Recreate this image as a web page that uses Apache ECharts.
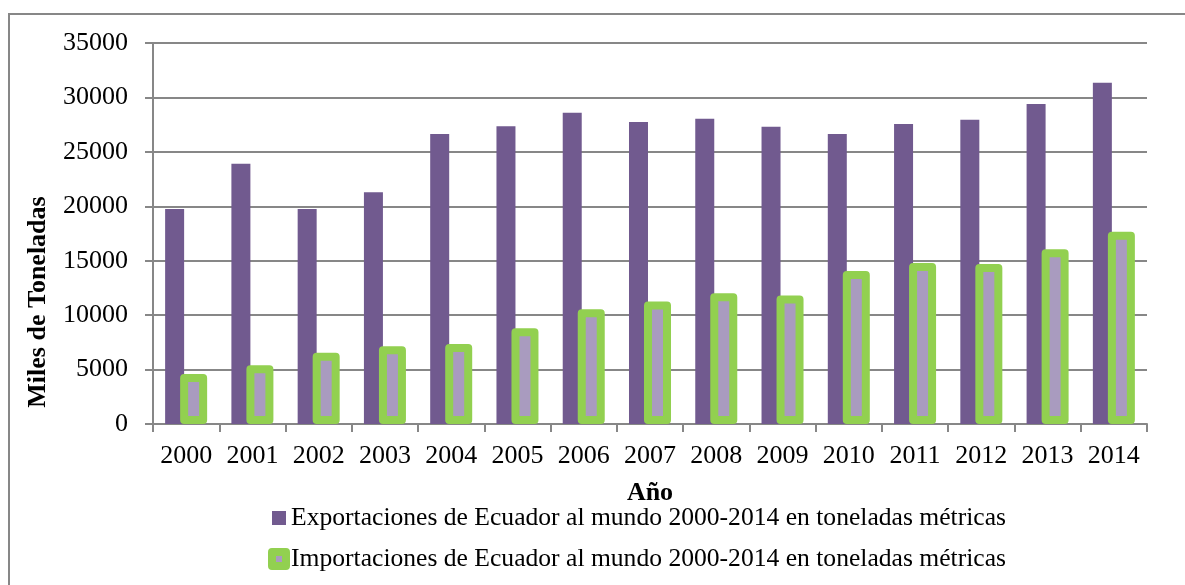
<!DOCTYPE html>
<html>
<head>
<meta charset="utf-8">
<script src="https://cdn.jsdelivr.net/npm/echarts@6/dist/echarts.min.js"></script>
<style>
  html, body { margin: 0; padding: 0; background: #fff; }
  #chart { width: 1185px; height: 585px; }
</style>
</head>
<body>
<div id="chart"></div>
<script>
// años
const years = ['2000', '2001', '2002', '2003', '2004', '2005', '2006', '2007',
  '2008', '2009', '2010', '2011', '2012', '2013', '2014']
// miles de toneladas
const exportaciones = [19750, 23900, 19750, 21300, 26650, 27350, 28600, 27750,
  28050, 27300, 26650, 27550, 27950, 29400, 31350]
const importaciones = [4600, 5400, 6550, 7150, 7350, 8800, 10550, 11250,
  12000, 11800, 14050, 14800, 14700, 16050, 17650]
const yTicks = [0, 5000, 10000, 15000, 20000, 25000, 30000, 35000]

const nombreExp = 'Exportaciones de Ecuador al mundo 2000-2014 en toneladas métricas'
const nombreImp = 'Importaciones de Ecuador al mundo 2000-2014 en toneladas métricas'

const serif = "'Liberation Serif', 'Times New Roman', serif"
const gray = '#878787'

const estiloImp = {
  color: '#a99bbf',
  borderColor: '#92d050',
  borderWidth: 8,
  borderJoin: 'round'
}

const chart = echarts.init(document.getElementById('chart'))

const options = {
  animation: false,
  textStyle: { fontFamily: serif, color: '#000' },
  grid: {
    left: 153,
    right: 38,
    top: 43,
    bottom: 161
  },
  graphic: [
    // marco exterior
    {
      type: 'rect',
      shape: { x: 9, y: 14, width: 1300, height: 700 },
      style: { fill: 'none', stroke: gray, lineWidth: 2 },
      silent: true
    },
    // título eje x
    {
      type: 'text',
      x: 650,
      y: 493,
      style: {
        text: 'Año',
        font: 'bold 26px ' + serif,
        fill: '#000',
        align: 'center',
        verticalAlign: 'middle'
      }
    },
    // título eje y
    {
      type: 'text',
      x: 38,
      y: 302,
      rotation: Math.PI / 2,
      style: {
        text: 'Miles de Toneladas',
        font: 'bold 26px ' + serif,
        fill: '#000',
        align: 'center',
        verticalAlign: 'middle'
      }
    }
  ],
  legend: {
    orient: 'vertical',
    left: 268,
    top: 505,
    padding: 0,
    itemWidth: 14,
    itemHeight: 14,
    itemGap: 15,
    icon: 'rect',
    textStyle: { fontFamily: serif, fontSize: 25.6, color: '#000' },
    data: [
      { name: nombreExp },
      { name: nombreImp, itemStyle: estiloImp }
    ]
  },
  xAxis: {
    type: 'category',
    data: years,
    axisLine: { lineStyle: { color: gray, width: 2 } },
    axisTick: { show: true, length: 8, lineStyle: { color: gray, width: 2 } },
    axisLabel: { interval: 0, fontSize: 26, color: '#000', margin: 19, fontFamily: serif },
    splitLine: { show: false }
  },
  yAxis: {
    type: 'value',
    min: yTicks[0],
    max: yTicks[yTicks.length - 1],
    interval: 5000,
    axisLine: { show: true, lineStyle: { color: gray, width: 2 } },
    axisTick: { show: true, length: 8, lineStyle: { color: gray, width: 2 } },
    axisLabel: {
      fontSize: 26,
      color: '#000',
      margin: 25,
      fontFamily: serif,
      formatter: function (v) { return String(v) }
    },
    splitLine: { lineStyle: { color: gray, width: 2 } }
  },
  series: [
    {
      name: nombreExp,
      type: 'bar',
      data: exportaciones,
      barWidth: 19,
      barGap: '-21%',
      itemStyle: { color: '#715a8f' }
    },
    {
      name: nombreImp,
      type: 'bar',
      data: importaciones,
      barWidth: 27, // el borde se dibuja hacia dentro
      itemStyle: estiloImp
    }
  ]
}

chart.setOption(options)
window.addEventListener('resize', function () {
  chart && chart.resize()
})
</script>
</body>
</html>
